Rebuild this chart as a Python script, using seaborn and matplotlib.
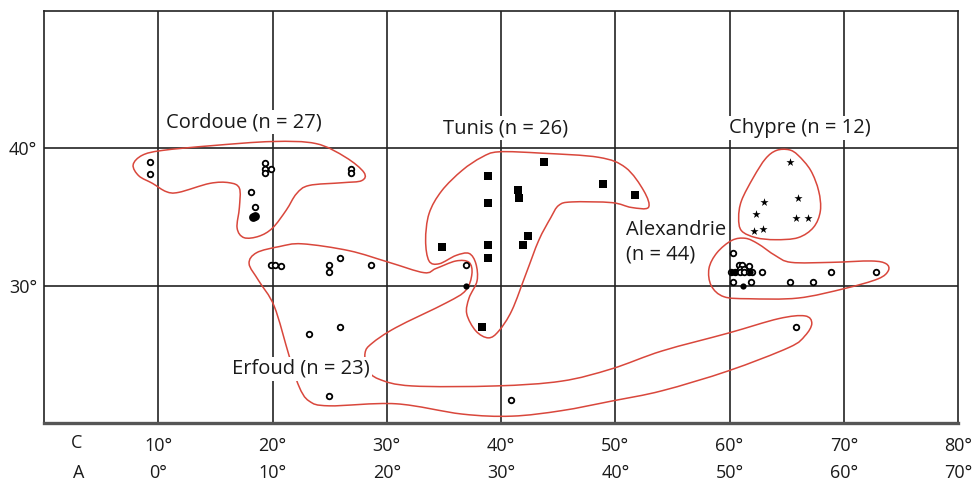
import numpy as np
import matplotlib
matplotlib.use("Agg")
import matplotlib.pyplot as plt
from matplotlib.path import Path
from matplotlib.patches import PathPatch
import seaborn as sns

# positions en degrés (axe C = longitude + 10), latitude
cordoue_c = [9.3, 9.3, 19.3, 19.3, 19.3, 19.9, 26.9, 26.9, 18.1, 18.5]
cordoue_lat = [39.0, 38.1, 38.9, 38.5, 38.2, 38.5, 38.5, 38.2, 36.8, 35.7]
cordoue_fill_c = [18.3, 18.5]
cordoue_fill_lat = [35.0, 35.1]

erfoud_c = [19.9, 20.2, 20.7, 24.9, 24.9, 25.9, 28.6, 23.2, 25.9, 24.9, 36.9, 40.9, 65.8]
erfoud_lat = [31.5, 31.5, 31.4, 31.5, 31.0, 32.0, 31.5, 26.5, 27.0, 22.0, 31.5, 21.7, 27.0]
erfoud_fill_c = [36.9]
erfoud_fill_lat = [30.0]

tunis_c = [43.8, 38.9, 48.9, 41.5, 41.6, 51.7, 38.9, 42.4, 41.9, 34.8, 38.9, 38.9, 38.3]
tunis_lat = [39.0, 38.0, 37.4, 37.0, 36.4, 36.6, 36.0, 33.6, 33.0, 32.8, 33.0, 32.0, 27.0]

chypre_c = [65.3, 63.0, 66.0, 62.3, 65.8, 66.9, 62.1, 62.9]
chypre_lat = [39.0, 36.1, 36.4, 35.2, 34.9, 34.9, 34.0, 34.1]

alex_c = [60.3, 60.8, 61.1, 61.7, 60.9, 61.3, 60.1, 60.5, 60.9, 61.3, 61.7, 62.0,
          62.8, 68.9, 72.8, 60.3, 61.9, 65.3, 67.3]
alex_lat = [32.4, 31.5, 31.5, 31.4, 31.25, 31.25, 31.0, 31.0, 31.0, 31.0, 31.0, 31.0,
            31.0, 31.0, 31.0, 30.3, 30.3, 30.3, 30.3]
alex_fill_c = [60.2, 60.5, 61.8, 61.2]
alex_fill_lat = [31.0, 31.0, 31.0, 30.0]

# contours (sommets du tracé à main levée)
cordoue_outline_c = [7.8, 8.6, 10.35, 14.7, 20.0, 23.8, 26.4, 28.0, 27.8, 26.1, 23.2, 22.1,
                     21.2, 20.0, 18.8, 17.5, 16.9, 17.1, 17.1, 16.2, 14.5, 11.8, 10.7, 9.5, 8.3]
cordoue_outline_lat = [38.8, 39.5, 39.85, 40.2, 40.5, 40.35, 39.35, 38.25, 37.65, 37.5, 37.3, 36.7,
                       35.5, 34.2, 33.6, 33.5, 34.2, 35.7, 37.1, 37.5, 37.45, 36.8, 36.85, 37.45, 38.0]

tunis_outline_c = [39.8, 43.6, 48.55, 50.9, 52.5, 52.9, 51.4, 49.7, 46.2, 45.05, 44.35, 43.3,
                   42.2, 40.95, 39.8, 38.9, 37.8, 37.0, 37.2, 37.9, 37.8, 37.2, 36.05, 34.6,
                   33.7, 33.4, 33.7, 34.8, 36.6, 38.3]
tunis_outline_lat = [39.75, 39.65, 39.35, 38.6, 36.9, 35.7, 35.7, 36.05, 36.1, 35.85, 34.95, 33.3,
                     30.9, 28.2, 26.7, 26.2, 26.7, 27.95, 29.1, 30.35, 31.6, 32.35, 32.2, 31.6,
                     31.8, 33.3, 35.25, 36.9, 38.4, 39.35]

erfoud_outline_c = [22.6, 26.7, 30.2, 33.25, 34.3, 36.05, 37.2, 37.45, 36.9, 35.2, 30.8, 28.7,
                    28.1, 28.3, 29.3, 32.2, 39.55, 45.3, 49.7, 54.1, 59.9, 64.3, 66.6, 67.2,
                    66.6, 65.2, 59.9, 54.1, 49.7, 45.3, 40.95, 36.6, 30.8, 24.95, 23.2, 22.3,
                    21.45, 20.15, 18.8, 17.95, 18.6, 20.6]
erfoud_outline_lat = [33.05, 32.55, 31.7, 30.95, 31.25, 31.8, 31.7, 30.85, 29.65, 28.75, 26.95, 25.8,
                      25.1, 23.95, 23.2, 22.7, 22.7, 23.05, 23.95, 25.25, 26.55, 27.6, 27.8, 27.25,
                      26.35, 25.5, 23.8, 22.35, 21.6, 20.9, 20.5, 20.65, 21.4, 21.25, 21.6, 22.7,
                      24.9, 28.5, 30.35, 31.6, 32.4, 32.85]

chypre_outline_c = [64.1, 65.2, 66.0, 67.1, 67.8, 67.95, 67.35, 66.0, 64.0, 62.3, 61.05, 60.8,
                    61.05, 62.1, 63.15]
chypre_outline_lat = [39.85, 39.9, 39.5, 38.4, 36.9, 35.45, 34.25, 33.5, 33.35, 33.5, 34.0, 34.95,
                      36.2, 37.9, 39.25]

alex_outline_c = [60.2, 61.4, 62.5, 64.0, 65.4, 68.9, 72.4, 73.7, 73.9, 73.0, 70.1, 66.0,
                  61.7, 59.5, 58.4, 58.2, 58.9]
alex_outline_lat = [33.3, 33.45, 33.05, 32.2, 31.7, 31.7, 31.8, 31.6, 31.1, 30.5, 29.8, 29.1,
                    29.05, 29.2, 30.0, 31.25, 32.4]

c_ticks = [10, 20, 30, 40, 50, 60, 70, 80]
lat_ticks = [30, 40]

RED = "#d9473c"
INK = "#222222"


def smooth_outline(xs, ys):
    # courbe fermée passant par les sommets (Catmull-Rom -> Bézier)
    pts = np.column_stack([xs, ys]).astype(float)
    n = len(pts)
    verts = [pts[0]]
    codes = [Path.MOVETO]
    for i in range(n):
        p0, p1, p2, p3 = pts[i - 1], pts[i], pts[(i + 1) % n], pts[(i + 2) % n]
        verts += [p1 + (p2 - p0) / 6, p2 - (p3 - p1) / 6, p2]
        codes += [Path.CURVE4] * 3
    return Path(verts, codes)


sns.set_style("white")
plt.rcParams['font.family'] = ['Open Sans', 'DejaVu Sans']

fig = plt.figure(figsize=(9.76, 4.82), dpi=100)
ax = fig.add_axes([0.0451, 0.1224, 0.9365, 0.8546])
ax.set_xlim(0, 80)
ax.set_ylim(20, 50)

# quadrillage
for c in c_ticks[:-1]:
    ax.axvline(c, color=INK, lw=1.2, zorder=1)
for la in lat_ticks:
    ax.axhline(la, color=INK, lw=1.2, zorder=1)

# contours
outlines = [
    (cordoue_outline_c, cordoue_outline_lat),
    (tunis_outline_c, tunis_outline_lat),
    (erfoud_outline_c, erfoud_outline_lat),
    (chypre_outline_c, chypre_outline_lat),
    (alex_outline_c, alex_outline_lat),
]
for xs, ys in outlines:
    ax.add_patch(PathPatch(smooth_outline(xs, ys), fill=False, ec=RED, lw=1.1, zorder=2))

# points
open_kw = dict(marker="o", s=16, facecolor="white", edgecolor="black", linewidth=1.3, zorder=4, ax=ax)
fill_kw = dict(marker="o", s=20, color="black", linewidth=0, zorder=4, ax=ax)
sns.scatterplot(x=cordoue_c, y=cordoue_lat, **open_kw)
sns.scatterplot(x=cordoue_fill_c, y=cordoue_fill_lat, marker="o", s=40, color="black", linewidth=0, zorder=4, ax=ax)
sns.scatterplot(x=erfoud_c, y=erfoud_lat, **open_kw)
sns.scatterplot(x=erfoud_fill_c, y=erfoud_fill_lat, **fill_kw)
sns.scatterplot(x=alex_c, y=alex_lat, **open_kw)
sns.scatterplot(x=alex_fill_c, y=alex_fill_lat, **fill_kw)
sns.scatterplot(x=tunis_c, y=tunis_lat, marker="s", s=32, color="black", linewidth=0, zorder=4, ax=ax)
sns.scatterplot(x=chypre_c, y=chypre_lat, marker="*", s=38, color="black", linewidth=0, zorder=4, ax=ax)

# étiquettes des groupes
box = dict(facecolor="white", edgecolor="none", pad=1.5)
lab_kw = dict(fontsize=14.5, color="#1a1a1a", zorder=6)
ax.text(17.5, 41.9, "Cordoue (n = 27)", ha="center", va="center", bbox=box, **lab_kw)
ax.text(40.4, 41.45, "Tunis (n = 26)", ha="center", va="center", bbox=box, **lab_kw)
ax.text(66.2, 41.45, "Chypre (n = 12)", ha="center", va="center", bbox=box, **lab_kw)
ax.text(50.9, 33.2, "Alexandrie\n(n = 44)", ha="left", va="center", linespacing=1.3, **lab_kw)
ax.text(22.5, 23.95, "Erfoud (n = 23)", ha="center", va="center", bbox=box, **lab_kw)

# axes
ax.set_yticks(lat_ticks, [f"{v}°" for v in lat_ticks])
ax.set_xticks(c_ticks, [f"{v}°" for v in c_ticks])
ax.tick_params(axis="both", length=0, labelsize=13, colors="#1a1a1a")
ax.tick_params(axis="x", pad=10)
ax.tick_params(axis="y", pad=5)
xt = ax.get_xaxis_transform()
for c in c_ticks:
    ax.text(c, -0.121, f"{c - 10}°", transform=xt, ha="center", va="center",
            fontsize=13, color="#1a1a1a", clip_on=False)
ax.text(2.85, -0.0485, "C", transform=xt, ha="center", va="center", fontsize=13, color="#1a1a1a")
ax.text(3.0, -0.121, "A", transform=xt, ha="center", va="center", fontsize=13, color="#1a1a1a")

for side in ["top", "left", "right"]:
    ax.spines[side].set_color(INK)
    ax.spines[side].set_linewidth(1.2)
ax.spines["bottom"].set_color("#555555")
ax.spines["bottom"].set_linewidth(2.4)
ax.set_xlabel("")
ax.set_ylabel("")

fig.savefig("out.png", dpi=100)
